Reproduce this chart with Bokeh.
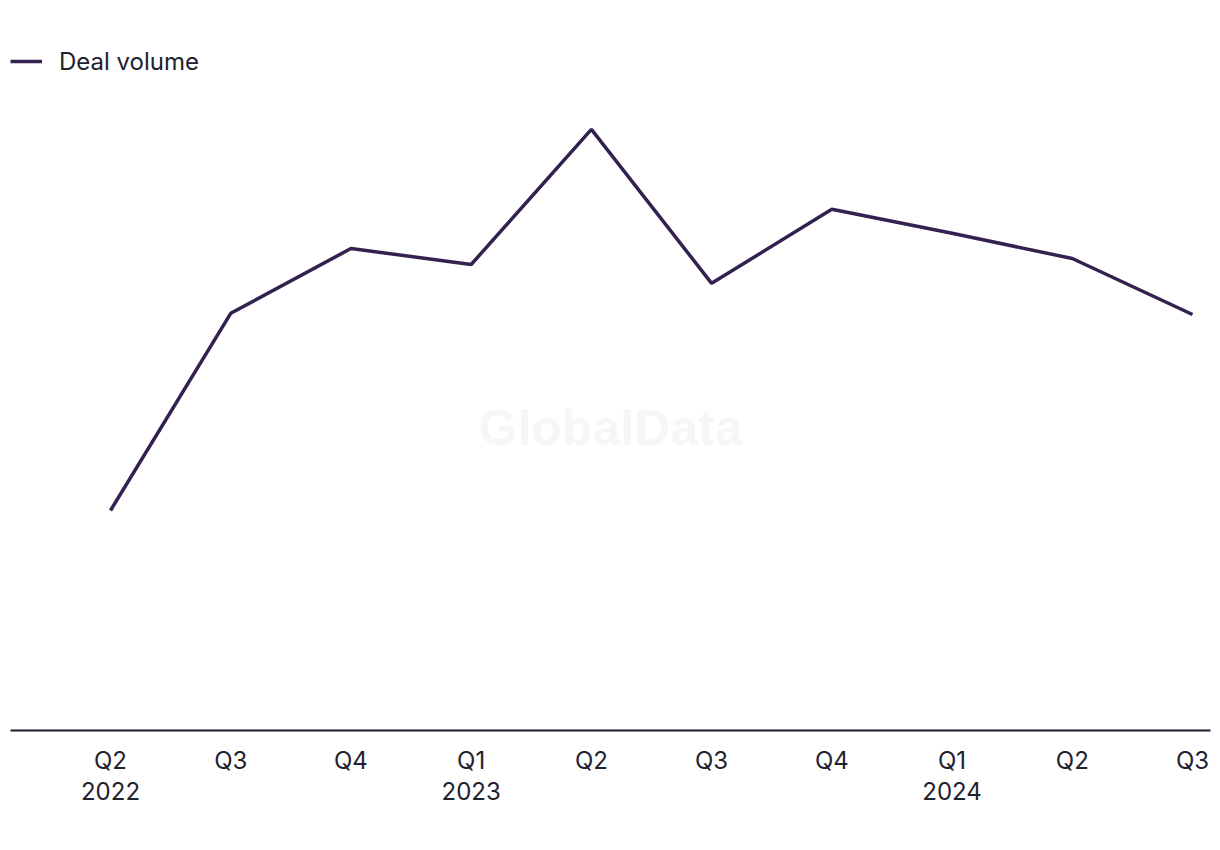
from bokeh.plotting import figure
from bokeh.models import Range1d, FixedTicker, Label, Legend, LegendItem
from bokeh.embed import file_html
from bokeh.resources import INLINE

quarters = ["Q2\n2022", "Q3", "Q4", "Q1\n2023", "Q2", "Q3", "Q4", "Q1\n2024", "Q2", "Q3"]
deal_volume = [55, 104.3, 120.5, 116.5, 150.3, 111.8, 130.3, 124.3, 118, 104]

xs = list(range(len(quarters)))
LINE = "#33214f"
FONT = "Inter"

p = figure(width=1220, height=850, output_backend="svg", toolbar_location=None,
           x_range=Range1d(-100 / 120.2, 9 + 18 / 120.2), y_range=Range1d(0, 172.5),
           min_border_left=10, min_border_right=10, min_border_top=40, min_border_bottom=120)
p.outline_line_color = None
p.grid.visible = False
p.yaxis.visible = False
p.background_fill_color = "white"
p.border_fill_color = "white"

ax = p.xaxis[0]
ax.ticker = FixedTicker(ticks=xs)
ax.major_label_overrides = {i: q for i, q in enumerate(quarters)}
ax.major_tick_line_color = None
ax.minor_tick_line_color = None
ax.axis_line_color = "#1c1a2b"
ax.axis_line_width = 2
ax.major_label_text_font = FONT
ax.major_label_text_font_size = "24px"
ax.major_label_text_color = "#22212e"
ax.major_label_standoff = 9
ax.major_label_text_line_height = 1.08

wm = Label(x=600, y=303, x_units="screen", y_units="screen", text="GlobalData",
           text_font="Liberation Sans", text_font_style="bold", text_font_size="50px",
           text_color="#f6f6f6", text_align="center", text_baseline="middle")
p.add_layout(wm)

r = p.line(xs, deal_volume, line_color=LINE, line_width=3.5)

leg = Legend(items=[LegendItem(label="Deal volume", renderers=[r])], location="top_left",
             margin=0, padding=0, glyph_width=32, glyph_height=42, label_standoff=17,
             border_line_alpha=0, background_fill_alpha=0,
             label_text_font=FONT, label_text_font_size="24px", label_text_color="#22212e")
p.add_layout(leg)

open("out.html", "w").write(file_html(p, INLINE))
